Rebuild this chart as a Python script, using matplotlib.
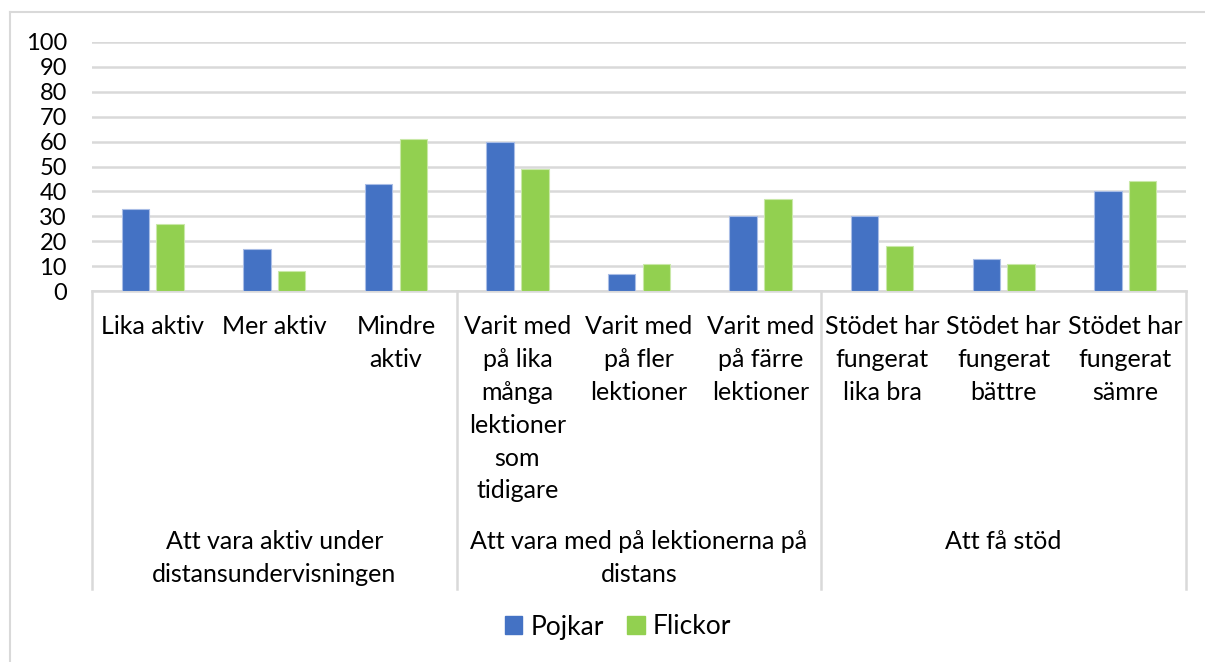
import matplotlib.pyplot as plt
from matplotlib.patches import Patch
from matplotlib.lines import Line2D
import numpy as np

plt.rcParams['font.family'] = ['Lato', 'DejaVu Sans']

categories = ["Lika aktiv", "Mer aktiv", "Mindre\naktiv",
              "Varit med\npå lika\nmånga\nlektioner\nsom\ntidigare",
              "Varit med\npå fler\nlektioner", "Varit med\npå färre\nlektioner",
              "Stödet har\nfungerat\nlika bra", "Stödet har\nfungerat\nbättre",
              "Stödet har\nfungerat\nsämre"]
groups = ["Att vara aktiv under\ndistansundervisningen",
          "Att vara med på lektionerna på\ndistans",
          "Att få stöd"]
pojkar = [33, 17, 43, 60, 7, 30, 30, 13, 40]
flickor = [27, 8, 61, 49, 11, 37, 18, 11, 44]

blue = '#4472c4'
green = '#92d050'
grid = '#d9d9d9'

W, H = 1205, 662
fig = plt.figure(figsize=(W / 100, H / 100), dpi=100)
ax = fig.add_axes([92 / W, 1 - 291 / H, (1186 - 92) / W, (291 - 42) / H])

x = np.arange(len(categories))
bw = 0.225
ax.bar(x - 0.143, pojkar, bw, color=blue, edgecolor='#a9bde6', linewidth=0.8, zorder=3)
ax.bar(x + 0.143, flickor, bw, color=green, edgecolor='#c9e8a8', linewidth=0.8, zorder=3)

ax.set_xlim(-0.5, len(categories) - 0.5)
ax.set_ylim(0, 100)
ax.set_yticks(range(0, 101, 10))
ax.set_xticks([])
ax.tick_params(axis='y', length=0, labelsize=17, pad=18)
ax.grid(axis='y', color=grid, linewidth=1.8, zorder=0)
for s in ['top', 'right', 'left']:
    ax.spines[s].set_visible(False)
ax.spines['bottom'].set_color(grid)
ax.spines['bottom'].set_linewidth(1.8)

# category labels
for i, lab in enumerate(categories):
    ax.annotate(lab, xy=(i, H - 315), xycoords=('data', 'figure pixels'),
                ha='center', va='top', fontsize=18, linespacing=1.52)

# group labels and separators
tr = ax.get_xaxis_transform()
ylow = -(589 - 291) / (291 - 42)
for g, lab in enumerate(groups):
    ax.annotate(lab, xy=(g * 3 + 1, H - 530), xycoords=('data', 'figure pixels'),
                ha='center', va='top', fontsize=18, linespacing=1.52)
for b in [-0.5, 2.5, 5.5, 8.5]:
    ax.add_line(Line2D([b, b], [0, ylow], transform=tr, color=grid,
                       linewidth=1.8, clip_on=False))

# outer chart border
fig.add_artist(Line2D([10 / W, 1], [1 - 12 / H, 1 - 12 / H], transform=fig.transFigure,
                      color=grid, linewidth=1.5))
fig.add_artist(Line2D([10 / W, 10 / W], [0, 1 - 12 / H], transform=fig.transFigure,
                      color=grid, linewidth=1.5))

handles = [Patch(color=blue, label='Pojkar'), Patch(color=green, label='Flickor')]
fig.legend(handles=handles, loc='center', bbox_to_anchor=(618 / W, 1 - 627 / H),
           ncol=2, frameon=False, fontsize=19, handlelength=0.65, handleheight=0.65,
           handletextpad=0.3, columnspacing=0.9)

fig.savefig('out.png', dpi=100)
